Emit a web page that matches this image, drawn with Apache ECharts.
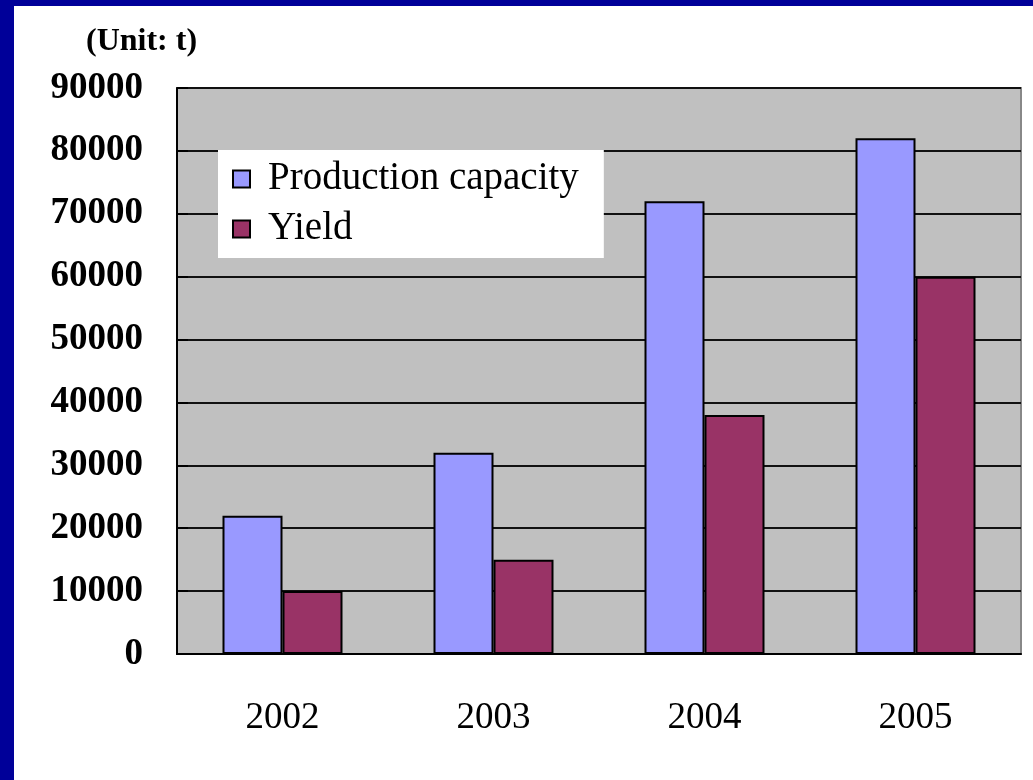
<!DOCTYPE html>
<html>
<head>
<meta charset="utf-8">
<script src="https://cdn.jsdelivr.net/npm/echarts@6/dist/echarts.min.js"></script>
<style>
  html, body { margin: 0; padding: 0; width: 1033px; height: 780px; background: #000099; overflow: hidden; }
  #chart { position: absolute; left: 14px; top: 6px; width: 1019px; height: 774px; background: #ffffff; }
</style>
</head>
<body>
<div id="chart"></div>
<script>
// Production capacity vs. yield by year (tonnes)
const years = ['2002', '2003', '2004', '2005'];
const capacity = [22000, 32000, 72000, 82000];
const yieldValues = [10000, 15000, 38000, 60000];
const yTicks = { min: 0, max: 90000, interval: 10000 };
const unitLabel = '(Unit: t)';

const serif = '"Liberation Serif", "DejaVu Serif", serif';

const chart = echarts.init(document.getElementById('chart'), null, { renderer: 'canvas' });

chart.setOption({
  backgroundColor: '#ffffff',
  animation: false,
  graphic: [{
    type: 'text',
    left: 72,
    top: 20,
    style: { text: unitLabel, font: 'bold 32px ' + serif, fill: '#000' }
  }],
  legend: {
    orient: 'vertical',
    left: 204,
    top: 144,
    backgroundColor: '#ffffff',
    padding: [4, 25, 4, 14],
    itemGap: 0,
    itemWidth: 17,
    itemHeight: 17,
    icon: 'rect',
    textStyle: { fontFamily: serif, fontSize: 39, color: '#000', lineHeight: 50, padding: [0, 0, 0, 13] },
    data: ['Production capacity', 'Yield']
  },
  grid: {
    left: 163,
    top: 82,
    width: 844,
    height: 566,
    show: true,
    backgroundColor: '#c0c0c0',
    borderColor: '#888888',
    borderWidth: 2
  },
  xAxis: {
    type: 'category',
    data: years,
    axisLine: { lineStyle: { color: '#000', width: 2 } },
    axisTick: { inside: true, length: 10, lineStyle: { color: '#000', width: 2 } },
    axisLabel: { fontFamily: serif, fontSize: 37, color: '#000', margin: 46 },
    splitLine: { show: false }
  },
  yAxis: {
    type: 'value',
    min: yTicks.min,
    max: yTicks.max,
    interval: yTicks.interval,
    axisLine: { show: true, lineStyle: { color: '#000', width: 2 } },
    axisTick: { show: true, inside: true, length: 11, lineStyle: { color: '#000', width: 2 } },
    axisLabel: {
      fontFamily: serif, fontWeight: 'bold', fontSize: 37, color: '#000', margin: 34,
      formatter: (v) => String(v)
    },
    splitLine: { show: true, lineStyle: { color: '#111', width: 2 } }
  },
  series: [
    {
      name: 'Production capacity',
      type: 'bar',
      data: capacity,
      barWidth: 60,
      barGap: '0%',
      itemStyle: { color: '#9999ff', borderColor: '#000', borderWidth: 2 }
    },
    {
      name: 'Yield',
      type: 'bar',
      data: yieldValues,
      barWidth: 60,
      barGap: '0%',
      itemStyle: { color: '#993366', borderColor: '#000', borderWidth: 2 }
    }
  ]
});
</script>
</body>
</html>
